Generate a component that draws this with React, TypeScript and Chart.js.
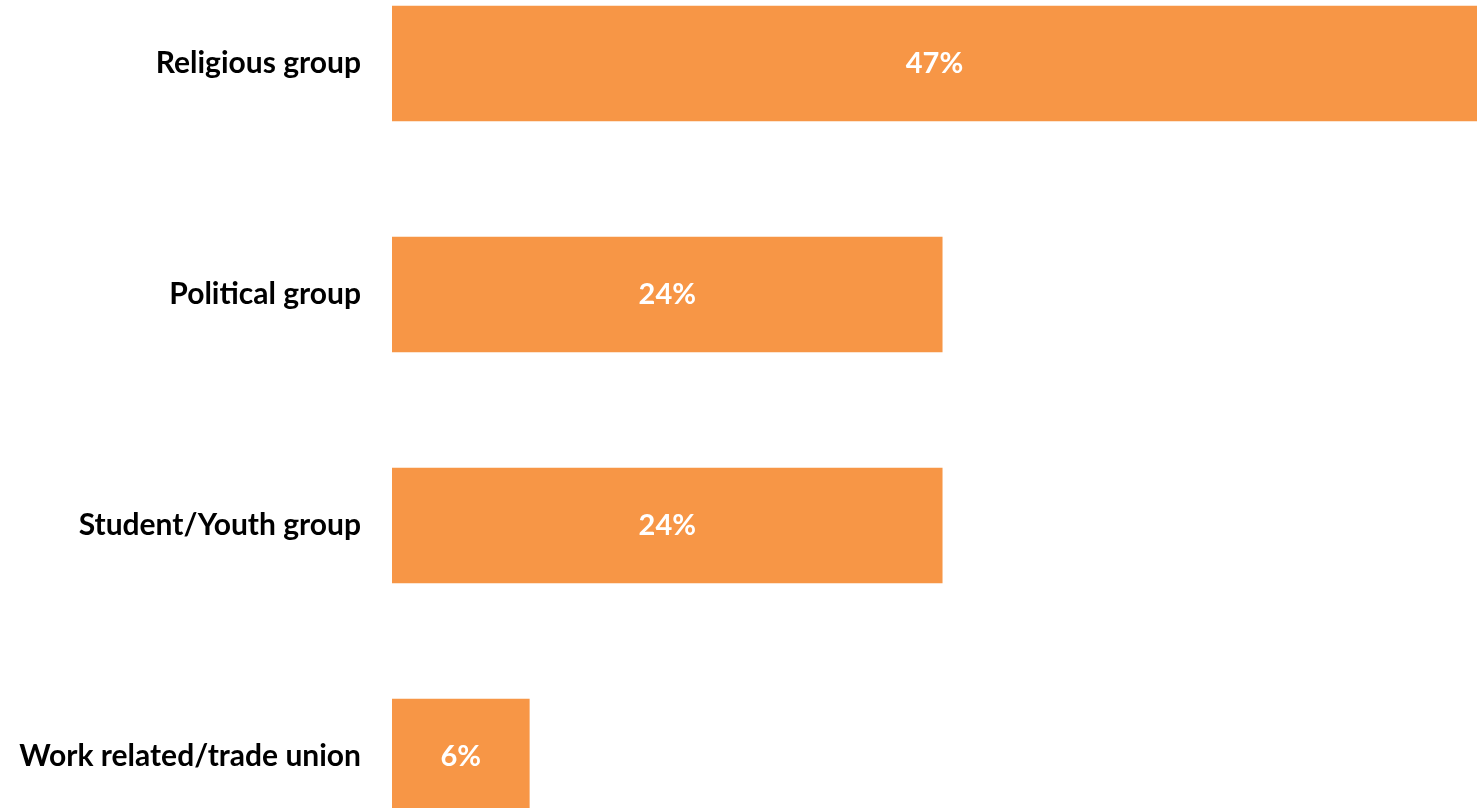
import React, { useEffect, useRef } from "react";
import { Chart, registerables } from "chart.js";

Chart.register(...registerables);

const categories = ["Religious group", "Political group", "Student/Youth group", "Work related/trade union"];
const values = [47.3, 24, 24, 6];
const barColor = "#F79646";
const FONT = "Lato, 'Open Sans', sans-serif";

const labelPlugin = {
  id: "barLabels",
  afterDatasetsDraw(chart: any) {
    const ctx = chart.ctx;
    const meta = chart.getDatasetMeta(0);
    ctx.save();
    ctx.fillStyle = "#ffffff";
    ctx.font = `bold 29px ${FONT}`;
    ctx.textAlign = "center";
    ctx.textBaseline = "middle";
    meta.data.forEach((bar: any, i: number) => {
      const cx = (bar.x + bar.base) / 2;
      ctx.fillText(`${Math.round(values[i])}%`, cx, bar.y);
    });
    ctx.restore();
  },
};

export default function App() {
  const ref = useRef<HTMLCanvasElement>(null);
  useEffect(() => {
    if (!ref.current) return;
    const chart = new Chart(ref.current, {
      type: "bar",
      data: {
        labels: categories,
        datasets: [
          {
            data: values,
            backgroundColor: barColor,
            barPercentage: 0.5,
            categoryPercentage: 1,
          },
        ],
      },
      options: {
        indexAxis: "y",
        animation: false,
        responsive: false,
        maintainAspectRatio: false,
        layout: { padding: 0 },
        plugins: { legend: { display: false }, tooltip: { enabled: false } },
        scales: {
          x: { display: false, min: 0, max: 47.3 },
          y: {
            grid: { display: false, drawTicks: false },
            border: { display: false },
            ticks: {
              padding: 31,
              color: "#000000",
              font: { family: FONT, size: 30, weight: "bold" },
            },
            afterFit(scale: any) {
              scale.width = 392;
              scale.paddingTop = 0;
              scale.paddingBottom = 0;
            },
          },
        },
      },
      plugins: [labelPlugin],
    });
    return () => chart.destroy();
  }, []);
  return (
    <canvas
      ref={ref}
      width={1477}
      height={924}
      style={{ position: "fixed", left: 0, top: -52, width: 1477, height: 924 }}
    />
  );
}
